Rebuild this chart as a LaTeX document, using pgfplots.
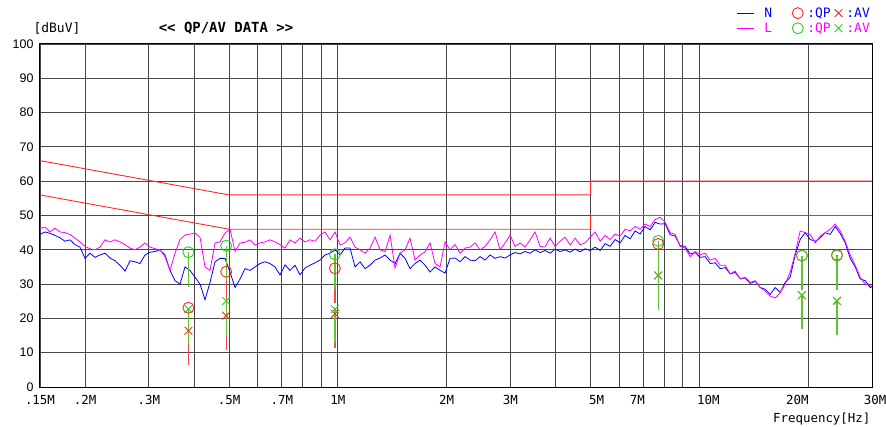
\documentclass[border=0pt]{standalone}
\usepackage{fontspec}
\setmainfont{Liberation Sans}
\newfontfamily\mono{DejaVu Sans Mono}
\usepackage{pgfplots}
\pgfplotsset{compat=1.18}
\definecolor{limred}{RGB}{255,40,40}
\definecolor{mkgreen}{RGB}{40,210,40}
\definecolor{stemgreen}{RGB}{100,195,45}
\definecolor{stemred}{RGB}{255,70,70}
\definecolor{trN}{RGB}{0,0,255}
\definecolor{trL}{RGB}{255,0,255}
\begin{document}
\begin{tikzpicture}
\begin{axis}[
  scale only axis, width=832bp, height=343bp,
  xmode=log, xmin=0.15, xmax=30, ymin=0, ymax=100,
  xtick={0.15,0.2,0.3,0.5,0.7,1,2,3,5,7,10,20,30},
  xticklabels={.15M,.2M,.3M,.5M,.7M,1M,2M,3M,\hspace*{12bp}5M,7M\hspace*{12bp},\hspace*{18bp}10M,20M\hspace*{22bp},\hspace*{6bp}30M},
  minor xtick={0.4,0.6,0.8,0.9,4,6,8,9},
  ytick={0,10,...,100},
  grid=both,
  major grid style={black!72, line width=0.9bp},
  minor grid style={black!72, line width=0.9bp},
  major tick length=0pt, minor tick length=0pt,
  axis line style={black, line width=1bp},
  /pgf/number format/assume math mode=true,
  xticklabel style={font=\mono\fontsize{12.5}{14}\selectfont, yshift=-5bp},
  yticklabel style={font=\fontsize{12.5}{14}\selectfont, xshift=-3bp},
  legend style={draw=none, fill=none, at={(1,1)}, anchor=south east, yshift=8bp,
    font=\mono\fontsize{13}{15}\selectfont, inner sep=0pt,
    /tikz/every odd column/.append style={column sep=2bp},
    /tikz/every even column/.append style={column sep=2bp}},
  legend columns=3, legend cell align=left,
]
% limit lines
\addplot[limred, line width=0.9bp, forget plot] coordinates {(0.15,66) (0.5,56) (5,56) (5,60) (30,60)};
\addplot[limred, line width=0.9bp, forget plot] coordinates {(0.15,56) (0.5,46) (5,46) (5,50) (30,50)};
% N trace
\addplot[trN, line width=0.8bp, forget plot] coordinates {
(0.1500,44.5) (0.1549,45.2) (0.1599,44.8) (0.1650,44.2) (0.1704,43.5) (0.1759,42.5) (0.1816,42.9) (0.1875,41.5)
(0.1935,40.8) (0.1998,37.5) (0.2063,39.0) (0.2129,37.8) (0.2198,38.5) (0.2269,39.0) (0.2343,37.6) (0.2419,36.8)
(0.2497,35.5) (0.2578,33.8) (0.2661,36.8) (0.2747,36.5) (0.2836,36.0) (0.2928,38.5) (0.3023,39.3) (0.3121,39.5)
(0.3221,40.0) (0.3326,38.5) (0.3433,34.0) (0.3544,31.0) (0.3659,30.0) (0.3777,35.0) (0.3899,34.0) (0.4026,32.0)
(0.4156,30.0) (0.4290,25.4) (0.4429,30.5) (0.4573,36.5) (0.4720,37.5) (0.4873,37.5) (0.5031,33.5) (0.5194,29.0)
(0.5362,31.5) (0.5535,34.5) (0.5714,34.0) (0.5899,35.0) (0.6090,36.0) (0.6287,36.5) (0.6491,36.0) (0.6701,35.0)
(0.6917,32.7) (0.7141,35.6) (0.7372,34.0) (0.7611,35.5) (0.7857,32.7) (0.8111,34.7) (0.8374,35.5) (0.8645,36.2)
(0.8924,37.0) (0.9213,38.5) (0.9511,39.0) (0.9819,40.0) (1.0137,38.5) (1.0465,40.5) (1.0803,40.5) (1.1153,35.0)
(1.1514,36.5) (1.1887,34.5) (1.2271,35.5) (1.2668,37.0) (1.3078,37.6) (1.3502,38.5) (1.3939,37.0) (1.4390,36.0)
(1.4856,39.0) (1.5336,37.5) (1.5833,34.5) (1.6345,36.0) (1.6874,37.0) (1.7420,35.5) (1.7984,33.5) (1.8566,35.0)
(1.9167,34.0) (1.9787,33.2) (2.0428,37.5) (2.1089,37.6) (2.1771,36.5) (2.2476,38.0) (2.3203,37.0) (2.3954,36.8)
(2.4729,38.0) (2.5530,37.0) (2.6356,38.5) (2.7209,37.5) (2.8090,38.0) (2.8999,37.6) (2.9937,38.5) (3.0906,39.2)
(3.1906,38.8) (3.2939,39.5) (3.4005,39.0) (3.5105,40.0) (3.6241,39.2) (3.7414,39.8) (3.8625,39.0) (3.9875,40.2)
(4.1166,39.5) (4.2498,40.0) (4.3873,39.3) (4.5293,40.2) (4.6759,39.4) (4.8272,40.3) (4.9835,39.8) (5.1447,40.8)
(5.3112,39.8) (5.4831,41.8) (5.6606,41.0) (5.8438,43.0) (6.0329,42.0) (6.2281,44.2) (6.4297,43.2) (6.6378,45.5)
(6.8526,44.6) (7.0743,46.8) (7.3033,45.8) (7.5396,48.0) (7.7836,47.5) (8.0355,47.6) (8.2956,44.4) (8.5640,44.0)
(8.8412,41.2) (9.1273,41.0) (9.4227,38.8) (9.7277,39.2) (10.042,37.8) (10.367,38.0) (10.703,36.0) (11.049,36.2)
(11.407,34.5) (11.776,34.8) (12.157,33.0) (12.551,33.4) (12.957,31.6) (13.376,31.8) (13.809,30.2) (14.256,30.8)
(14.717,29.0) (15.194,28.5) (15.685,27.0) (16.193,29.0) (16.717,27.6) (17.258,30.5) (17.817,32.0) (18.393,38.5)
(18.989,43.0) (19.603,45.0) (20.238,43.0) (20.893,42.5) (21.569,43.5) (22.267,45.0) (22.987,44.5) (23.731,46.8)
(24.499,44.8) (25.292,42.0) (26.111,37.5) (26.956,35.0) (27.828,31.5) (28.729,31.0) (29.659,29.0) (30.0,29.5)};
% L trace
\addplot[trL, line width=0.8bp, forget plot] coordinates {
(0.1500,46.3) (0.1549,46.6) (0.1599,45.2) (0.1650,46.3) (0.1704,45.2) (0.1759,45.0) (0.1816,44.5) (0.1875,43.4)
(0.1935,42.3) (0.1998,41.0) (0.2063,40.3) (0.2129,40.0) (0.2198,40.8) (0.2269,42.9) (0.2343,42.3) (0.2419,42.9)
(0.2497,42.3) (0.2578,41.5) (0.2661,40.5) (0.2747,40.0) (0.2836,40.8) (0.2928,42.0) (0.3023,40.8) (0.3121,40.3)
(0.3221,40.0) (0.3326,38.0) (0.3433,34.0) (0.3544,39.0) (0.3659,43.0) (0.3777,44.3) (0.3899,44.6) (0.4026,44.9)
(0.4156,43.7) (0.4290,35.0) (0.4429,34.0) (0.4573,42.0) (0.4720,42.3) (0.4873,44.9) (0.5031,46.0) (0.5194,39.5)
(0.5362,42.0) (0.5535,42.2) (0.5714,42.9) (0.5899,41.4) (0.6090,42.0) (0.6287,42.3) (0.6491,42.9) (0.6701,42.3)
(0.6917,41.5) (0.7141,40.5) (0.7372,42.9) (0.7611,42.0) (0.7857,43.4) (0.8111,42.3) (0.8374,42.9) (0.8645,42.5)
(0.8924,44.3) (0.9213,45.2) (0.9511,42.9) (0.9819,45.2) (1.0137,41.4) (1.0465,42.0) (1.0803,43.7) (1.1153,40.8)
(1.1514,40.0) (1.1887,39.0) (1.2271,40.5) (1.2668,43.7) (1.3078,40.0) (1.3502,39.4) (1.3939,44.3) (1.4390,34.7)
(1.4856,39.0) (1.5336,40.0) (1.5833,43.4) (1.6345,37.0) (1.6874,38.5) (1.7420,39.4) (1.7984,42.0) (1.8566,36.0)
(1.9167,35.0) (1.9787,42.3) (2.0428,40.0) (2.1089,41.5) (2.1771,39.0) (2.2476,40.5) (2.3203,40.8) (2.3954,42.0)
(2.4729,40.0) (2.5530,41.0) (2.6356,42.9) (2.7209,45.2) (2.8090,40.0) (2.8999,42.0) (2.9937,44.3) (3.0906,41.0)
(3.1906,42.0) (3.2939,40.8) (3.4005,42.9) (3.5105,45.2) (3.6241,41.0) (3.7414,40.8) (3.8625,43.4) (3.9875,41.0)
(4.1166,42.5) (4.2498,43.7) (4.3873,41.4) (4.5293,43.4) (4.6759,41.5) (4.8272,42.0) (4.9835,43.7) (5.1447,45.2)
(5.3112,42.5) (5.4831,44.2) (5.6606,43.0) (5.8438,44.6) (6.0329,44.0) (6.2281,46.0) (6.4297,45.5) (6.6378,46.8)
(6.8526,46.0) (7.0743,47.5) (7.3033,46.8) (7.5396,48.8) (7.7836,49.5) (8.0355,48.0) (8.2956,45.0) (8.5640,44.5)
(8.8412,41.0) (9.1273,40.5) (9.4227,38.0) (9.7277,39.5) (10.042,38.6) (10.367,39.0) (10.703,37.0) (11.049,37.5)
(11.407,35.5) (11.776,35.5) (12.157,33.0) (12.551,33.8) (12.957,31.5) (13.376,32.0) (13.809,30.5) (14.256,31.0)
(14.717,29.0) (15.194,28.0) (15.685,26.5) (16.193,26.0) (16.717,27.5) (17.258,30.0) (17.817,33.5) (18.393,39.0)
(18.989,45.5) (19.603,45.0) (20.238,44.5) (20.893,42.0) (21.569,44.0) (22.267,45.0) (22.987,46.0) (23.731,47.5)
(24.499,45.5) (25.292,42.5) (26.111,38.5) (26.956,35.5) (27.828,32.0) (28.729,30.0) (29.659,29.5) (30.0,29.0)};
% N markers (red)
\addplot[only marks, mark=o, mark size=5.5bp, limred, line width=0.9bp, forget plot,
  error bars/.cd, y dir=minus, y fixed=10, error mark=none, error bar style={stemred, line width=1.4bp}]
  coordinates {(0.386,23.1) (0.491,33.6) (0.981,34.6) (7.69,41.7) (19.2,38.3) (24.0,38.5)};
\addplot[only marks, mark=x, mark size=5.5bp, limred, line width=0.9bp, forget plot,
  error bars/.cd, y dir=minus, y fixed=10, error mark=none, error bar style={stemred, line width=1.4bp}]
  coordinates {(0.386,16.4) (0.491,20.8) (0.981,21.3) (7.69,32.5) (19.2,26.8) (24.0,25.1)};
% L markers (green)
\addplot[only marks, mark=o, mark size=5.5bp, mkgreen, line width=0.9bp, forget plot,
  error bars/.cd, y dir=minus, y fixed=10, error mark=none, error bar style={stemgreen, line width=1.4bp}]
  coordinates {(0.386,39.3) (0.491,41.2) (0.981,38.7) (7.69,42.6) (19.2,38.3) (24.0,38.3)};
\addplot[only marks, mark=x, mark size=5.5bp, mkgreen, line width=0.9bp, forget plot,
  error bars/.cd, y dir=minus, y fixed=10, error mark=none, error bar style={stemgreen, line width=1.4bp}]
  coordinates {(0.386,22.7) (0.491,25.1) (0.981,22.7) (7.69,32.5) (19.2,26.8) (24.0,25.1)};
% legend
\addlegendimage{trN, line width=1.3bp}
\addlegendentry{\textcolor{trN}{\hspace*{6bp}N\hspace*{16bp}}}
\addlegendimage{only marks, mark=o, mark size=5.5bp, limred, line width=0.9bp}
\addlegendentry{\textcolor{trN}{:QP}}
\addlegendimage{only marks, mark=x, mark size=5.5bp, limred, line width=0.9bp}
\addlegendentry{\textcolor{trN}{:AV}}
\addlegendimage{trL, line width=1.3bp}
\addlegendentry{\textcolor{trL}{\hspace*{6bp}L\hspace*{16bp}}}
\addlegendimage{only marks, mark=o, mark size=5.5bp, mkgreen, line width=0.9bp}
\addlegendentry{\textcolor{trL}{:QP}}
\addlegendimage{only marks, mark=x, mark size=5.5bp, mkgreen, line width=0.9bp}
\addlegendentry{\textcolor{trL}{:AV}}
\end{axis}
\node[font=\mono\fontsize{13}{15}\selectfont] at (17bp,359bp) {[dBuV]};
\node[font=\mono\bfseries\fontsize{14}{16}\selectfont] at (186bp,359bp) {<\kern0pt< QP/AV DATA >\kern0pt>};
\node[anchor=east, font=\mono\fontsize{12.5}{14}\selectfont] at (834bp,-32bp) {Frequency[Hz]};
\pgfresetboundingbox
\path[use as bounding box] (-40bp,-40bp) rectangle (846bp,387bp);
\end{tikzpicture}
\end{document}
